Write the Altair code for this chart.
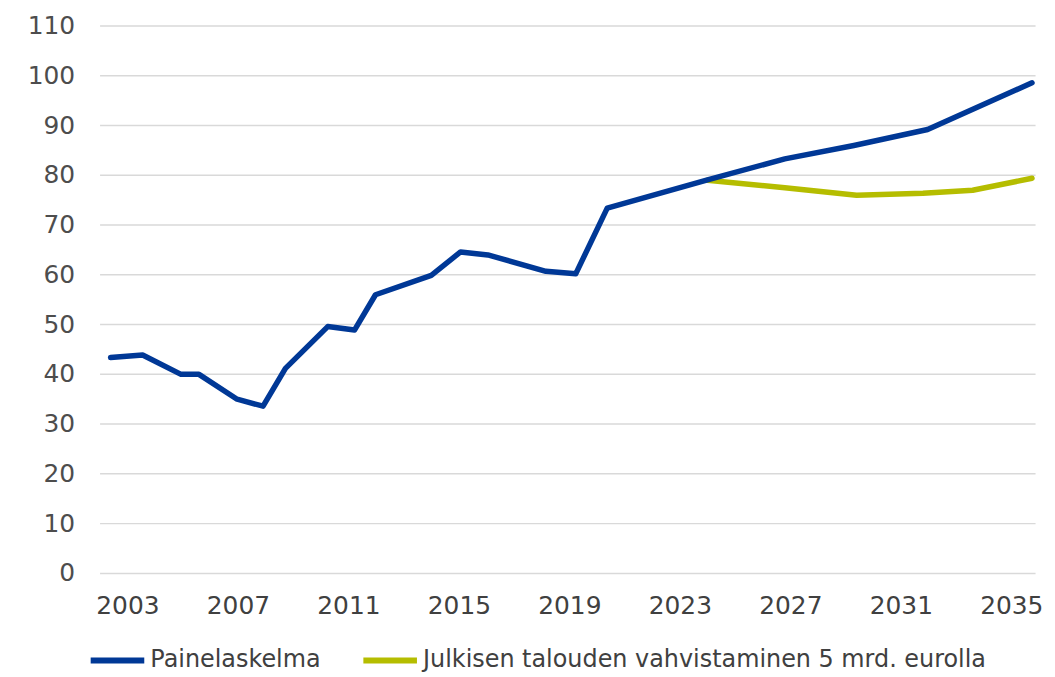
import altair as alt
import pandas as pd

# Painelaskelma (blue) — decimal-year positions
base_years = [2002.39, 2003.55, 2004.94, 2005.59, 2006.97, 2007.91, 2008.72,
              2010.25, 2011.22, 2011.98, 2014.0, 2015.06, 2016.05, 2018.15,
              2019.23, 2020.37, 2024.0, 2026.8, 2029.3, 2031.97, 2035.75]
base_vals = [43.3, 43.8, 39.9, 39.9, 34.9, 33.5, 41.1,
             49.5, 48.8, 55.9, 59.8, 64.5, 63.9, 60.6,
             60.1, 73.3, 79.0, 83.2, 85.9, 89.1, 98.5]

# Julkisen talouden vahvistaminen 5 mrd. eurolla (green)
alt_years = [2024.0, 2026.8, 2029.4, 2031.8, 2033.6, 2035.75]
alt_vals = [78.9, 77.4, 75.9, 76.3, 76.9, 79.3]

series_names = ["Painelaskelma", "Julkisen talouden vahvistaminen 5 mrd. eurolla"]
series_colors = ["#003896", "#B5BD00"]

x_ticks = list(range(2003, 2036, 4))
y_ticks = list(range(0, 111, 10))

df_base = pd.DataFrame({"year": base_years, "value": base_vals, "series": series_names[0]})
df_alt = pd.DataFrame({"year": alt_years, "value": alt_vals, "series": series_names[1]})

FONT = "DejaVu Sans"

color = alt.Color(
    "series:N",
    scale=alt.Scale(domain=series_names, range=series_colors),
    legend=alt.Legend(
        title=None,
        orient="none",
        direction="horizontal",
        legendX=-12,
        legendY=608,
        symbolType="stroke",
        symbolSize=2900,
        symbolStrokeWidth=6,
        labelFont=FONT,
        labelFontSize=24,
        labelColor="#404040",
        labelOffset=3,
        columnPadding=30,
        labelLimit=800,
    ),
)

x = alt.X(
    "year:Q",
    scale=alt.Scale(domain=[2001.99, 2035.86], nice=False, zero=False),
    axis=alt.Axis(
        title=None, values=x_ticks, format="d", grid=False, domain=False, ticks=False,
        labelFont=FONT, labelFontSize=25, labelColor="#404040", labelPadding=21,
        labelFlush=False,
    ),
)
y = alt.Y(
    "value:Q",
    scale=alt.Scale(domain=[0, 110], nice=False),
    axis=alt.Axis(
        title=None, values=y_ticks, grid=True, gridColor="#d9d9d9", gridWidth=1.5,
        domain=False, ticks=False, labelFont=FONT, labelFontSize=25,
        labelColor="#4d4d4d", labelPadding=25,
    ),
)

line_green = alt.Chart(df_alt).mark_line(strokeWidth=5.5, strokeCap="round", strokeJoin="round").encode(
    x=x, y=y, color=color
)
line_blue = alt.Chart(df_base).mark_line(strokeWidth=5.5, strokeCap="round", strokeJoin="round").encode(
    x=x, y=y, color=color
)

chart = alt.layer(line_green, line_blue).properties(
    width=940,
    height=550,
    autosize=alt.AutoSizeParams(type="none"),
    padding={"left": 92, "top": 16, "right": 12, "bottom": 103},
).configure_view(stroke=None)

chart.save("out.html", embed_options={"renderer": "svg", "actions": False})
